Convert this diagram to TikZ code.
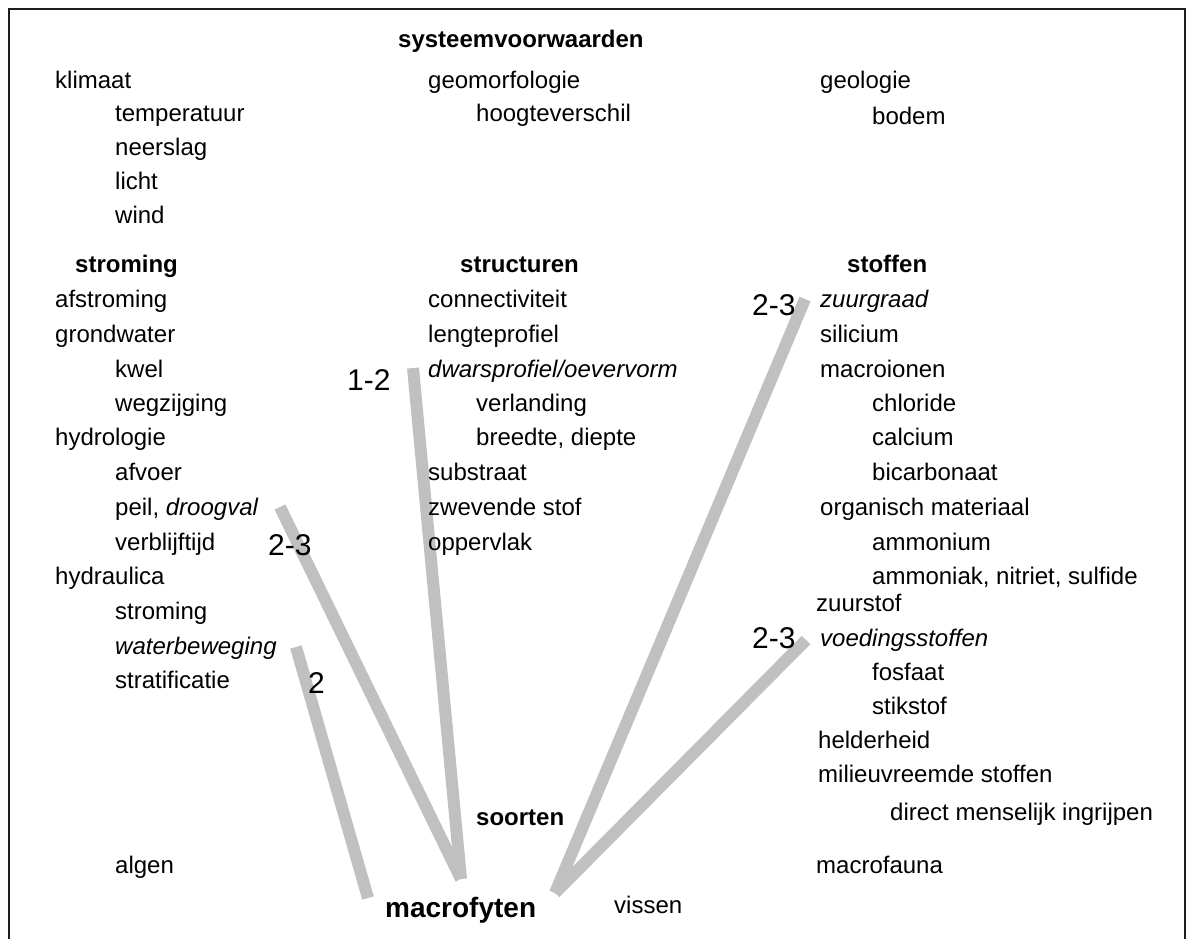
\documentclass[tikz,border=0pt]{standalone}
\usepackage{fontspec}
\setmainfont{Liberation Sans}
\definecolor{linkgray}{RGB}{192,192,192}
\definecolor{framecol}{RGB}{30,30,30}
\begin{document}
\begin{tikzpicture}[x=1pt,y=-1pt,
  txt/.style={anchor=base west, inner sep=0pt, font=\fontsize{24}{28}\selectfont},
  hdr/.style={anchor=base west, inner sep=0pt, font=\fontsize{24}{28}\selectfont\bfseries},
  big/.style={anchor=base west, inner sep=0pt, font=\fontsize{28}{32}\selectfont\bfseries},
  lbl/.style={anchor=base west, inner sep=0pt, font=\fontsize{30}{34}\selectfont},
  link/.style={line width=12pt, draw=linkgray, line cap=butt},
  framepath/.style={line width=1.8pt, draw=framecol}]
\useasboundingbox (0,0) rectangle (1188,938);

% frame (open at the bottom)
\draw[framepath] (9,945) -- (9,9) -- (1185,9) -- (1185,945);

% connector end points
\coordinate (mL) at (461,879);
\coordinate (mR) at (555,893);
\coordinate (mS) at (368,898);
\coordinate (eDwars) at (413,368);
\coordinate (ePeil) at (280,507);
\coordinate (eWater) at (296,647);
\coordinate (eZuur) at (805,299);
\coordinate (eVoed) at (806,640);

% connectors
\draw[link] (eDwars) -- (mL);
\draw[link] (ePeil) -- (mL);
\draw[link] (eWater) -- (mS);
\draw[link] (eZuur) -- (mR);
\draw[link] (eVoed) -- (mR);

% header
\node[hdr] (sys) at (398,47) {systeemvoorwaarden};

% systeemvoorwaarden columns
\node[txt] (klimaat) at (55,88) {klimaat};
\node[txt] (temp) at (115,121) {temperatuur};
\node[txt] (neerslag) at (115,155) {neerslag};
\node[txt] (licht) at (115,189) {licht};
\node[txt] (wind) at (115,223) {wind};

\node[txt] (geomorf) at (428,88) {geomorfologie};
\node[txt] (hoogte) at (476,121) {hoogteverschil};

\node[txt] (geologie) at (820,88) {geologie};
\node[txt] (bodem) at (872,124) {bodem};

% stroming
\node[hdr] (stroming) at (75,272) {stroming};
\node[txt] (afstroming) at (55,307) {afstroming};
\node[txt] (grondwater) at (55,342) {grondwater};
\node[txt] (kwel) at (115,377) {kwel};
\node[txt] (wegzijging) at (115,411) {wegzijging};
\node[txt] (hydrologie) at (55,445) {hydrologie};
\node[txt] (afvoer) at (115,480) {afvoer};
\node[txt] (peil) at (115,515) {peil, \textit{droogval}};
\node[txt] (verblijf) at (115,550) {verblijftijd};
\node[txt] (hydraulica) at (55,584) {hydraulica};
\node[txt] (stroming2) at (115,619) {stroming};
\node[txt] (waterbew) at (115,654) {\textit{waterbeweging}};
\node[txt] (strat) at (115,688) {stratificatie};

% structuren
\node[hdr] (structuren) at (460,272) {structuren};
\node[txt] (connect) at (428,307) {connectiviteit};
\node[txt] (lengte) at (428,342) {lengteprofiel};
\node[txt] (dwars) at (428,377) {\textit{dwarsprofiel/oevervorm}};
\node[txt] (verlanding) at (476,411) {verlanding};
\node[txt] (breedte) at (476,445) {breedte, diepte};
\node[txt] (substraat) at (428,480) {substraat};
\node[txt] (zwevend) at (428,515) {zwevende stof};
\node[txt] (oppervlak) at (428,550) {oppervlak};

% stoffen
\node[hdr] (stoffen) at (847,272) {stoffen};
\node[txt] (zuurgraad) at (820,307) {\textit{zuurgraad}};
\node[txt] (silicium) at (820,342) {silicium};
\node[txt] (macroionen) at (820,377) {macroionen};
\node[txt] (chloride) at (872,411) {chloride};
\node[txt] (calcium) at (872,445) {calcium};
\node[txt] (bicarb) at (872,480) {bicarbonaat};
\node[txt] (organisch) at (820,515) {organisch materiaal};
\node[txt] (ammonium) at (872,550) {ammonium};
\node[txt] (ammoniak) at (872,584) {ammoniak, nitriet, sulfide};
\node[txt] (zuurstof) at (816,611) {zuurstof};
\node[txt] (voeding) at (820,646) {\textit{voedingsstoffen}};
\node[txt] (fosfaat) at (872,680) {fosfaat};
\node[txt] (stikstof) at (872,714) {stikstof};
\node[txt] (helderheid) at (818,748) {helderheid};
\node[txt] (milieu) at (818,782) {milieuvreemde stoffen};

% bottom
\node[txt] (direct) at (890,820) {direct menselijk ingrijpen};
\node[hdr] (soorten) at (476,825) {soorten};
\node[txt] (algen) at (115,873) {algen};
\node[txt] (macrofauna) at (816,873) {macrofauna};
\node[big] (macrofyten) at (385,917) {macrofyten};
\node[txt] (vissen) at (614,913) {vissen};

% connector labels
\node[lbl] (l12) at (347,390) {1-2};
\node[lbl] (l23a) at (268,555) {2-3};
\node[lbl] (l2) at (308,693) {2};
\node[lbl] (l23b) at (752,315) {2-3};
\node[lbl] (l23c) at (752,648) {2-3};
\end{tikzpicture}
\end{document}
